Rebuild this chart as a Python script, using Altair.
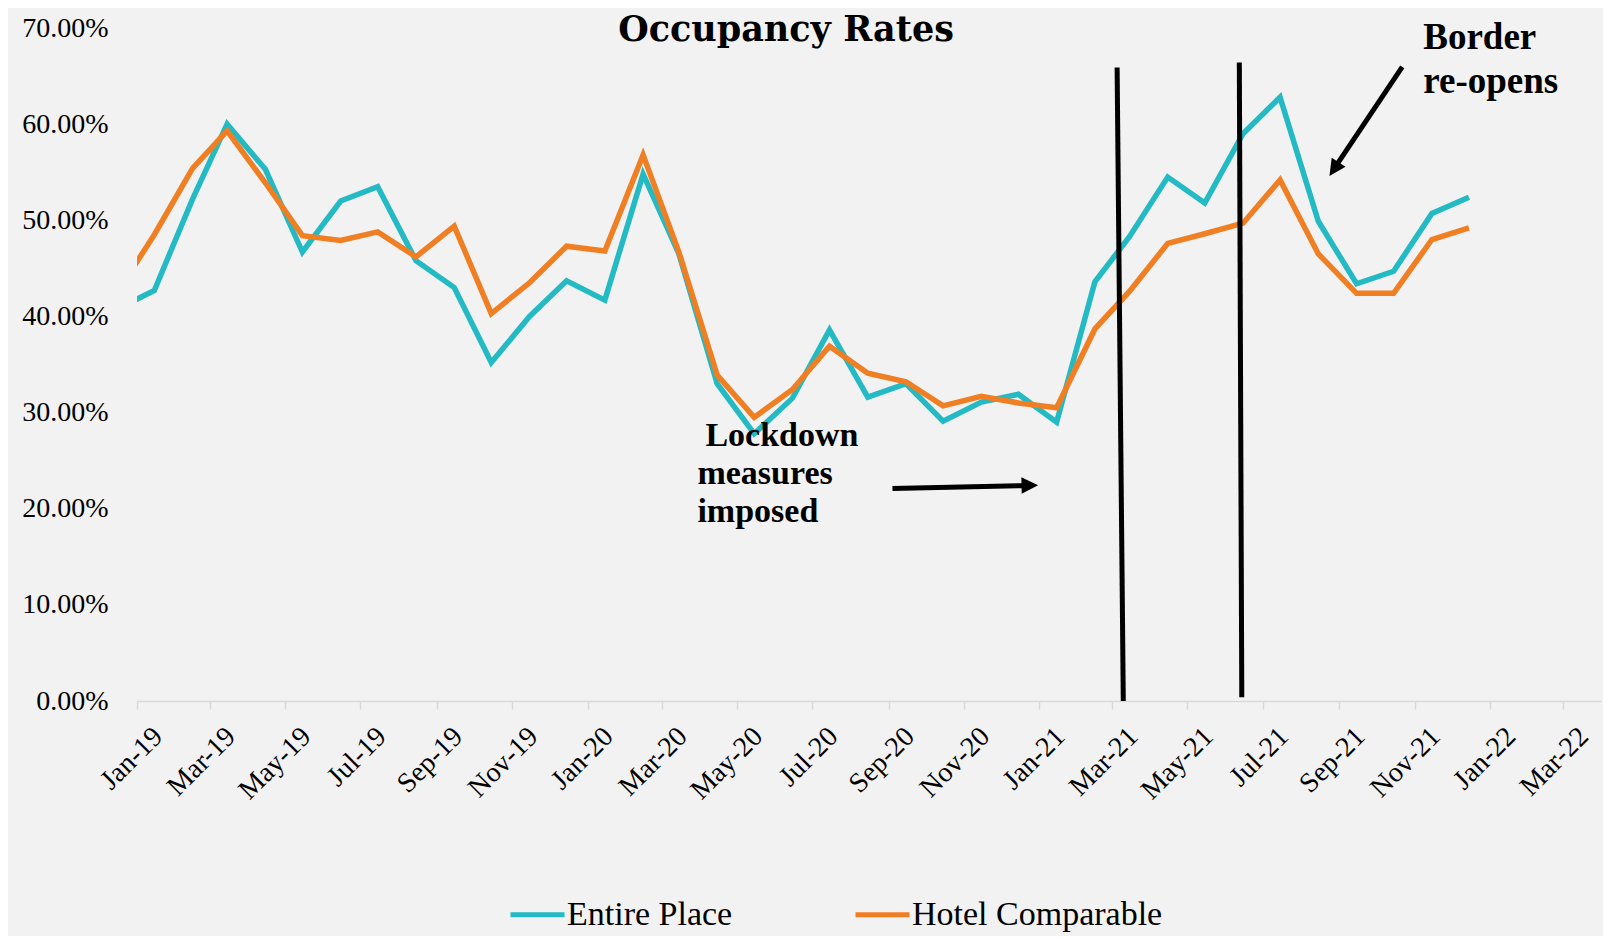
import altair as alt
import pandas as pd

# ---------------- data ----------------
# observations are plotted mid-month; Dec-18 only enters the chart at its clipped left edge
month_starts = pd.date_range("2018-12-01", "2021-12-01", freq="MS")
obs_dates = [d.strftime("%Y-%m-15") for d in month_starts]

entire_place = [40.7,
                42.7, 52.2, 60.0, 55.3, 46.7, 52.0, 53.5, 45.8, 43.0, 35.2, 40.0, 43.7,
                41.7, 54.8, 46.5, 33.0, 27.8, 31.5, 38.6, 31.6, 33.0, 29.1, 31.1, 31.9,
                29.0, 43.6, 48.3, 54.5, 51.8, 59.0, 62.8, 49.9, 43.4, 44.7, 50.7, 52.4]
hotel_comparable = [42.3,
                    48.5, 55.4, 59.3, 53.9, 48.4, 47.9, 48.8, 46.2, 49.4, 40.3, 43.5, 47.3,
                    46.8, 56.8, 46.7, 33.9, 29.5, 32.4, 36.9, 34.1, 33.2, 30.7, 31.7, 31.0,
                    30.5, 38.7, 42.6, 47.6, 48.6, 49.7, 54.2, 46.5, 42.4, 42.4, 48.0, 49.2]
series_names = ["Entire Place", "Hotel Comparable"]
series_colors = ["#23BAC4", "#F07E22"]

tick_months = [d.strftime("%Y-%m-%d") for d in pd.date_range("2019-01-01", "2022-03-01", freq="2MS")]
x_domain = ["2019-01-01", "2022-04-01"]
y_ticks = [0, 10, 20, 30, 40, 50, 60, 70]

# two vertical marker lines
marker_x = ["2021-03-05", "2021-06-12"]
marker_x2 = ["2021-03-10", "2021-06-14"]
marker_top = [65.9, 66.4]
marker_bottom = [0.0, 0.4]

# annotation arrows (shaft start, shaft end, head tip, head direction)
arrow_start_x = ["2020-09-04", "2021-10-22"]
arrow_start_y = [22.1, 65.95]
arrow_end_x = ["2020-12-20", "2021-08-30"]
arrow_end_y = [22.4, 55.8]
arrow_tip_x = ["2020-12-31", "2021-08-24"]
arrow_tip_y = [22.45, 54.6]
arrow_angle = [358.7, 123.6]

# texts
title_text = "Occupancy Rates"
lockdown_first = "Lockdown"
lockdown_rest = ["measures", "imposed"]
lockdown_pos = ("2020-03-30", 26.5)
border_lines = ["Border", "re-opens"]
border_pos = ("2021-11-08", 67.85)

# ---------------- build ----------------
def utc(s):
    y, m, d = (int(v) for v in s.split("-"))
    return alt.DateTime(year=y, month=m, date=d, utc=True)

n = len(obs_dates)
df = pd.DataFrame({
    "date": obs_dates * 2,
    "series": [series_names[0]] * n + [series_names[1]] * n,
    "rate": entire_place + hotel_comparable,
})

FONT = "Liberation Serif"
x_scale = alt.Scale(type="utc", domain=[utc(x_domain[0]), utc(x_domain[1])])
y_scale = alt.Scale(domain=[0, 70], nice=False, zero=True)

x_axis = alt.Axis(
    title=None, values=[utc(t) for t in tick_months],
    labelExpr="utcFormat(datum.value, '%b-%y')",
    labelAngle=315, labelAlign="right", labelBaseline="middle",
    labelOffset=21, labelPadding=23, labelFont=FONT, labelFontSize=28,
    labelColor="black", labelFlush=False, labelOverlap=False, labelBound=False,
    domainColor="#D9D9D9", domainWidth=1.5, tickColor="#D9D9D9", tickWidth=1.5,
    tickSize=8, grid=False,
)
y_axis = alt.Axis(
    title=None, values=y_ticks,
    labelExpr="format(datum.value, '.2f') + '%'",
    labelFont=FONT, labelFontSize=28, labelColor="black", labelPadding=29,
    labelFlush=False, ticks=False, domain=False, grid=False,
)

X = alt.X("date:T", scale=x_scale, axis=x_axis)
Y = alt.Y("rate:Q", scale=y_scale, axis=y_axis)

lines = alt.Chart(df).mark_line(strokeWidth=5.5, clip=True).encode(
    x=X, y=Y,
    color=alt.Color(
        "series:N",
        scale=alt.Scale(domain=series_names, range=series_colors),
        legend=alt.Legend(
            orient="none", legendX=371, legendY=857, direction="horizontal",
            title=None, symbolType="stroke", symbolSize=2916, symbolStrokeWidth=5,
            labelFont=FONT, labelFontSize=34, labelColor="black", labelOffset=0,
            columnPadding=112, padding=0, labelLimit=0,
        ),
    ),
)

markers_df = pd.DataFrame({"date": marker_x, "date2": marker_x2,
                           "rate": marker_top, "rate2": marker_bottom})
markers = alt.Chart(markers_df).mark_rule(color="black", strokeWidth=5).encode(
    x=X, x2="date2:T", y=Y, y2="rate2:Q",
)

shaft_df = pd.DataFrame({"date": arrow_start_x, "date2": arrow_end_x,
                         "rate": arrow_start_y, "rate2": arrow_end_y})
shafts = alt.Chart(shaft_df).mark_rule(color="black", strokeWidth=5).encode(
    x=X, x2="date2:T", y=Y, y2="rate2:Q",
)

head_df = pd.DataFrame({"date": arrow_tip_x, "rate": arrow_tip_y, "ang": arrow_angle})
heads = alt.Chart(head_df).mark_point(
    shape="M0,0L-2,-1L-2,1Z", filled=True, color="black", opacity=1, size=275,
).encode(
    x=X, y=Y, angle=alt.Angle("ang:Q", scale=None),
)

lock_df = pd.DataFrame({"date": [lockdown_pos[0]], "rate": [lockdown_pos[1]]})
lock_text1 = alt.Chart(lock_df).mark_text(
    text=lockdown_first, font=FONT, fontSize=34, fontWeight="bold",
    align="left", baseline="alphabetic", color="black", dx=8,
).encode(x=X, y=Y)
lock_text2 = alt.Chart(lock_df).mark_text(
    text=lockdown_rest, font=FONT, fontSize=34, fontWeight="bold", lineHeight=38,
    align="left", baseline="alphabetic", color="black", dy=38,
).encode(x=X, y=Y)

border_df = pd.DataFrame({"date": [border_pos[0]], "rate": [border_pos[1]]})
border_text = alt.Chart(border_df).mark_text(
    text=border_lines, font=FONT, fontSize=37, fontWeight="bold", lineHeight=44,
    align="left", baseline="alphabetic", color="black",
).encode(x=X, y=Y)

# chart title, drawn inside the top of the plot area as in the reference
title = alt.Chart(pd.DataFrame({"t": [title_text]})).mark_text(
    font="DejaVu Serif", fontSize=35, fontWeight="bold", color="black",
    align="center", baseline="alphabetic",
).encode(text="t:N", x=alt.value(649), y=alt.value(13.3))

chart = alt.layer(lines, markers, shafts, heads, lock_text1, lock_text2, border_text, title).properties(
    width=1464, height=673,
    padding={"left": 129, "top": 20, "right": 2, "bottom": 235},
    autosize=alt.AutoSizeParams(type="none"),
).configure(background="#F2F2F2").configure_view(stroke=None)

chart.save("out.html", embed_options={"renderer": "svg", "actions": False})
